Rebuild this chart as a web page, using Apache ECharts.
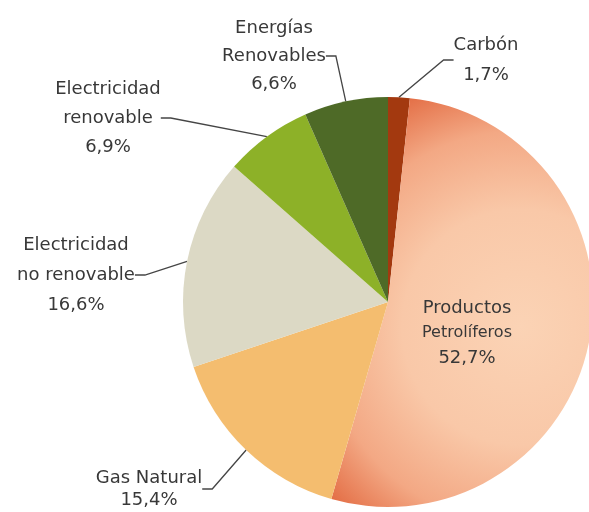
<!DOCTYPE html>
<html>
<head>
<meta charset="utf-8">
<script src="https://cdn.jsdelivr.net/npm/echarts@6/dist/echarts.min.js"></script>
<style>
  html, body { margin: 0; padding: 0; background: #ffffff; }
  #chart { width: 589px; height: 512px; }
</style>
</head>
<body>
<div id="chart"></div>
<script>
// Energy consumption share by source (%), clockwise from 12 o'clock
const categories = ['Carbón', 'Productos\nPetrolíferos', 'Gas Natural', 'Electricidad\nno renovable', 'Electricidad\nrenovable', 'Energías\nRenovables'];
const shares = [1.7, 52.7, 15.4, 16.6, 6.9, 6.6];
const sliceColors = ['#a3390f', null, '#f4bd6f', '#dcd9c5', '#8db128', '#4e6a27'];

// label anchor points (centre of each text block)
const labelPos = [[486, 60], [467, 333], [149, 489], [76, 275], [108, 118], [274, 56]];
const labelLineHeight = [30, 25, 22, 30, 29, 28];

// petroleum slice is shaded with a soft radial gradient
const petroleumFill = new echarts.graphic.RadialGradient(0.72, 0.56, 1.0, [
  { offset: 0, color: '#fbd3b5' },
  { offset: 0.45, color: '#f9c8a8' },
  { offset: 0.75, color: '#f3a884' },
  { offset: 1, color: '#e2683f' }
]);

const fmtPct = v => v.toFixed(1).replace('.', ',') + '%';
const textColor = '#383838';

const pieData = categories.map((name, i) => {
  const item = {
    name: name,
    value: shares[i],
    itemStyle: { color: i === 1 ? petroleumFill : sliceColors[i] },
    label: { lineHeight: labelLineHeight[i] }
  };
  if (i === 1) {
    const parts = name.split('\n');
    item.label = {
      position: 'inside',
      formatter: '{a|' + parts[0] + '}\n{b|' + parts[1] + '}\n{a|' + fmtPct(shares[i]) + '}',
      rich: {
        a: { fontSize: 18, lineHeight: 25, color: textColor, fontFamily: 'DejaVu Sans' },
        b: { fontSize: 16, lineHeight: 25, color: textColor, fontFamily: 'DejaVu Sans' }
      }
    };
    item.labelLine = { show: false };
  }
  return item;
});

const chart = echarts.init(document.getElementById('chart'), null, { renderer: 'canvas' });
chart.setOption({
  backgroundColor: '#ffffff',
  animation: false,
  series: [{
    type: 'pie',
    center: [388, 302],
    radius: [0, 205],
    startAngle: 90,
    clockwise: true,
    avoidLabelOverlap: false,
    data: pieData,
    label: {
      show: true,
      position: 'outside',
      formatter: p => p.name + '\n' + fmtPct(p.value),
      fontFamily: 'DejaVu Sans',
      fontSize: 18,
      color: textColor,
      align: 'center'
    },
    labelLine: {
      show: true,
      length: 10,
      length2: 10,
      lineStyle: { color: '#454545', width: 1.3 }
    },
    labelLayout: function (params) {
      const p = labelPos[params.dataIndex];
      return { x: p[0], y: p[1], align: 'center', verticalAlign: 'middle' };
    },
    emphasis: { disabled: true }
  }]
});
</script>
</body>
</html>
